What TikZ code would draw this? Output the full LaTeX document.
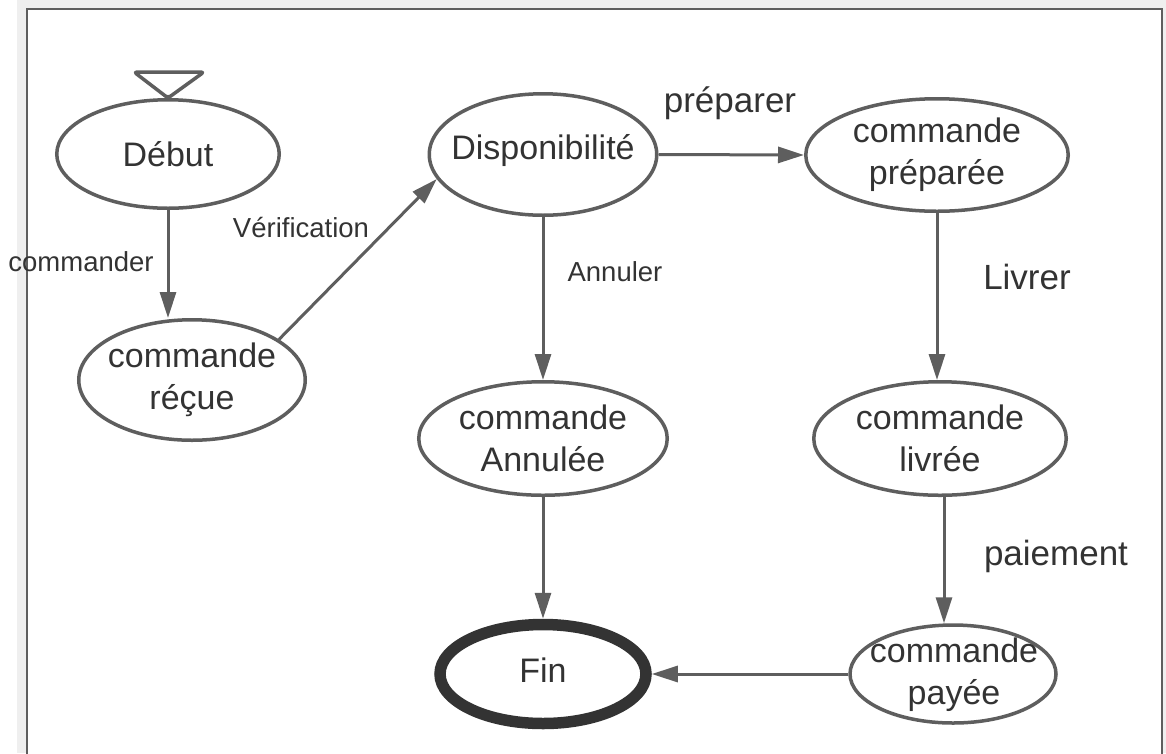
\documentclass[tikz,border=0pt]{standalone}
\usepackage{fontspec}
\setmainfont{Liberation Sans}
\usetikzlibrary{shapes.geometric,arrows.meta,calc}
\definecolor{edgegray}{HTML}{5E5E5E}
\definecolor{inkgray}{HTML}{333333}
\definecolor{paper}{HTML}{EFEFEF}
\begin{document}
\begin{tikzpicture}[x=1pt,y=-1pt,
  state/.style={ellipse, draw=edgegray, line width=3.5pt, inner sep=0pt, fill=white},
  statetext/.style={align=center, text=inkgray, inner sep=0pt,
    font=\fontsize{34}{42}\selectfont},
  finalstate/.style={ellipse, draw=inkgray, line width=11.5pt, inner sep=0pt, fill=white},
  flow/.style={draw=edgegray, line width=3pt, -{Triangle[length=26pt,width=16pt]}},
  biglabel/.style={text=inkgray, inner sep=0pt, font=\fontsize{35}{42}\selectfont},
  smalllabel/.style={text=inkgray, inner sep=0pt, font=\fontsize{27.5}{32}\selectfont}]
\useasboundingbox (0,0) rectangle (1166,753);

% sheet and frame
\fill[paper] (17,0) rectangle (1166,753);
\filldraw[fill=white, draw=edgegray, line width=1.5pt] (27,9) rectangle (1162,770);

% states
\node[state, minimum width=222.5pt, minimum height=108.5pt] (deb) at (168,154) {};
\node[state, minimum width=226.5pt, minimum height=120.5pt] (rec) at (192,380) {};
\node[state, minimum width=227.5pt, minimum height=121.5pt] (dis) at (543,154.5) {};
\node[state, minimum width=262.5pt, minimum height=112.5pt] (prep) at (937,155) {};
\node[state, minimum width=248.5pt, minimum height=113.5pt] (ann) at (543,438.5) {};
\node[state, minimum width=252.5pt, minimum height=113.5pt] (liv) at (940,438.5) {};
\node[state, minimum width=206pt, minimum height=98pt] (pay) at (953,674) {};
\node[finalstate, minimum width=206pt, minimum height=99pt] (fin) at (543,674) {};

% state texts
\node[statetext] (deb-t) at (deb) {Début};
\node[statetext] (rec-t) at (rec) {commande\\réçue};
\node[statetext] (dis-t) at ($(dis)+(0,-4)$) {Disponibilité};
\node[statetext] (prep-t) at (prep) {commande\\préparée};
\node[statetext] (ann-t) at (ann) {commande\\Annulée};
\node[statetext] (liv-t) at (liv) {commande\\livrée};
\node[statetext] (pay-t) at ($(pay)+(1,1)$) {commande\\payée};
\node[statetext] (fin-t) at ($(fin)+(0,-4)$) {Fin};

% initial marker above the start state
\draw[edgegray, line width=3.5pt, line join=round, rounded corners=3pt]
  (deb.north) -- ($(deb.north)+(-34,-26)$) -- ($(deb.north)+(36,-26)$) -- cycle;

% transitions
\draw[flow] (deb.south) -- (deb.south |- rec.north);
\draw[flow] (rec.25) -- (dis.193);
\draw[flow] (dis.east) -- (prep.west);
\draw[flow] (dis.south) -- (ann.north);
\draw[flow] (prep.south) -- (prep.south |- liv.north);
\draw[flow] ($(liv.south)+(4,0)$) -- ($(liv.south |- pay.north)+(4,0)$);
\draw[flow] (ann.south) -- (fin.north);
\draw[flow] (pay.west) -- (fin.east);

% transition labels
\node[smalllabel] (l-cmd) at (81,262) {commander};
\node[smalllabel] (l-ver) at (301,228) {Vérification};
\node[smalllabel] (l-ann) at (615,272) {Annuler};
\node[biglabel] (l-prep) at (730,103) {préparer};
\node[biglabel] (l-liv) at (1027,277) {Livrer};
\node[biglabel] (l-pay) at (1056,556) {paiement};
\end{tikzpicture}
\end{document}
